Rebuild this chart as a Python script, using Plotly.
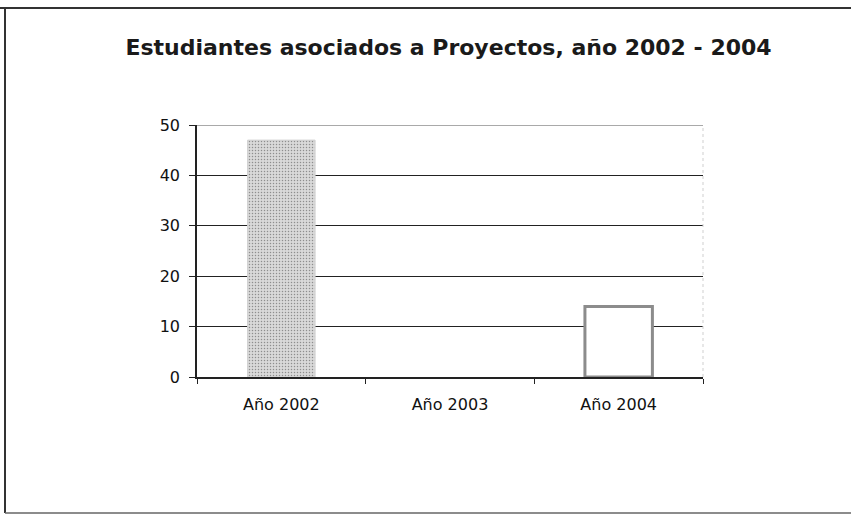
import plotly.graph_objects as go

# Chart data
categories = ["Año 2002", "Año 2003", "Año 2004"]
students = [47, 0, 14]
bar_fill = ["#d9d9d9", "#d9d9d9", "#ffffff"]
bar_line = ["#d0d0d0", "#d0d0d0", "#8c8c8c"]
bar_line_width = [1, 0, 3]
y_ticks = [0, 10, 20, 30, 40, 50]

FONT = "DejaVu Sans, Liberation Sans, sans-serif"

# Plot-area geometry in pixels (used to place the outer frame in paper units)
W, H = 851, 515
L, R, T, B = 197, 148, 125, 138
PW, PH = W - L - R, H - T - B


def px_x(x):
    return (x - L) / PW


def px_y(y):
    return (H - B - y) / PH


fig = go.Figure()
fig.add_trace(go.Bar(
    x=categories,
    y=students,
    width=0.4,
    marker=dict(
        color=bar_fill,
        line=dict(color=bar_line, width=bar_line_width),
        pattern=dict(shape=[".", ".", ""], fgcolor="#b0b0b0", bgcolor="#dcdcdc",
                     size=3, solidity=0.2),
    ),
    showlegend=False,
))

fig.update_layout(
    width=W, height=H,
    margin=dict(l=L, r=R, t=T, b=B),
    paper_bgcolor="white", plot_bgcolor="white",
    font=dict(family=FONT, color="#111111", size=15),
    title=dict(
        text="<b>Estudiantes asociados a Proyectos, año 2002 - 2004</b>",
        x=px_x(448.5), xref="paper", xanchor="center",
        y=1 - 47 / H, yanchor="middle",
        font=dict(size=22, family=FONT, color="#1a1a1a"),
    ),
    bargap=0.6,
)

fig.update_yaxes(
    range=[0, 50], tickvals=y_ticks, showgrid=True, gridcolor="#222222", gridwidth=1.2,
    showline=True, linecolor="#222222", linewidth=1.5,
    ticks="outside", ticklen=6, tickcolor="#222222", ticklabelstandoff=6,
    zeroline=False, tickfont=dict(size=16),
)
fig.update_xaxes(
    showline=True, linecolor="#222222", linewidth=1.5,
    ticks="outside", tickson="boundaries", ticklen=5, tickcolor="#222222",
    ticklabelstandoff=12,
    showgrid=False, tickfont=dict(size=16),
)

# Gridline at the top of the value range
fig.add_shape(type="line", xref="paper", yref="y", x0=0, x1=1, y0=50, y1=50,
              line=dict(color="#555555", width=1.2))
# Faint right edge of the plot area
fig.add_shape(type="line", xref="paper", yref="paper", x0=1, x1=1, y0=0, y1=1,
              line=dict(color="#cfcfcf", width=1, dash="dot"))

# Outer frame around the chart
frame_top, frame_left, frame_bottom = 8, 5, 513
fig.add_shape(type="line", xref="paper", yref="paper",
              x0=px_x(0), x1=px_x(W + 5), y0=px_y(frame_top), y1=px_y(frame_top),
              line=dict(color="#333333", width=2))
fig.add_shape(type="line", xref="paper", yref="paper",
              x0=px_x(frame_left), x1=px_x(frame_left), y0=px_y(frame_bottom), y1=px_y(frame_top),
              line=dict(color="#333333", width=2))
fig.add_shape(type="line", xref="paper", yref="paper",
              x0=px_x(frame_left), x1=px_x(W + 5), y0=px_y(frame_bottom), y1=px_y(frame_bottom),
              line=dict(color="#666666", width=1.5))

fig.write_html("out.html")
